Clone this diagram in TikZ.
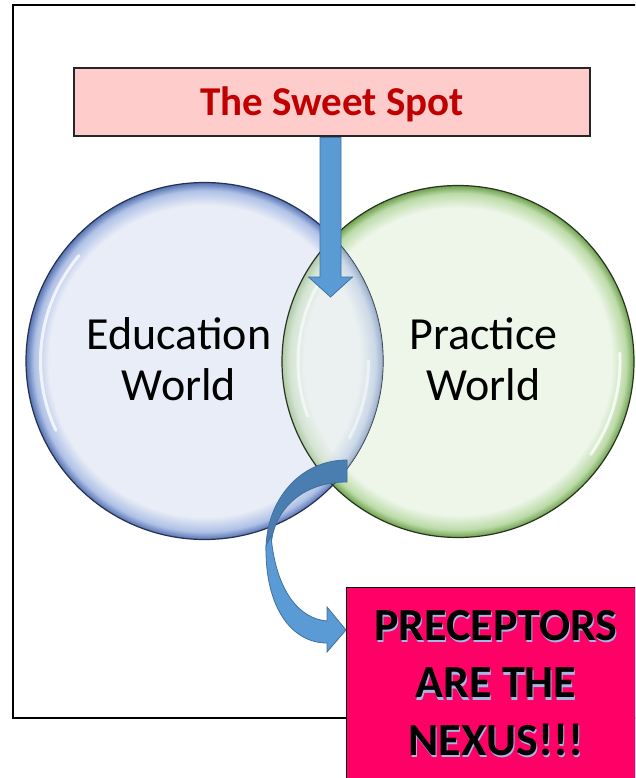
\documentclass[tikz,border=0pt]{standalone}
\usepackage{fontspec}
\setmainfont{Carlito}
\usetikzlibrary{calc}
\definecolor{sweetfill}{HTML}{FFCCCC}
\definecolor{sweettext}{HTML}{C00000}
\definecolor{arrowblue}{HTML}{5B9BD5}
\definecolor{arrowdark}{HTML}{41719C}
\definecolor{arrowback}{HTML}{4A7EB1}
\definecolor{blueinner}{HTML}{E9EDF7}
\definecolor{bluemid}{HTML}{AFC1E6}
\definecolor{bluerim}{HTML}{5672B2}
\definecolor{blueline}{HTML}{26324F}
\definecolor{greeninner}{HTML}{EEF6EA}
\definecolor{greenmid}{HTML}{BCDBA8}
\definecolor{greenrim}{HTML}{6E9F4F}
\definecolor{greenline}{HTML}{26351B}
\definecolor{nexusfill}{HTML}{FF0066}
\definecolor{glowcol}{HTML}{A3B7E4}
\newcommand\glowline[1]{\leavevmode\rlap{\kern1pt\raisebox{-2.5pt}{\textcolor{glowcol}{#1}}}#1}
\pgfdeclareradialshading{blueglass}{\pgfpoint{0bp}{0bp}}{color(0bp)=(blueinner); color(21.8bp)=(blueinner); color(23.9bp)=(bluemid); color(25bp)=(bluerim); color(50bp)=(bluerim)}
\pgfdeclareradialshading{greenglass}{\pgfpoint{0bp}{0bp}}{color(0bp)=(greeninner); color(21.8bp)=(greeninner); color(23.9bp)=(greenmid); color(25bp)=(greenrim); color(50bp)=(greenrim)}
\tikzset{
  worldcircle/.style={circle, inner sep=0pt, line width=1.2pt},
  sweetbox/.style={rectangle, draw=black!85, line width=1.4pt, fill=sweetfill,
    minimum width=516pt, minimum height=68pt, inner sep=0pt, text=sweettext,
    font=\fontsize{41}{49}\selectfont\bfseries, text height=26.4pt, text depth=0pt},
  worldlabel/.style={align=center, font=\fontsize{46}{51}\selectfont, inner sep=0pt, anchor=base},
  nexusbox/.style={rectangle, draw=black, line width=1.4pt, fill=nexusfill,
    minimum width=300pt, minimum height=240pt, inner sep=0pt},
  nexustext/.style={align=center, font=\fontsize{46}{57.5}\selectfont\bfseries, inner sep=0pt, anchor=base},
  blockarrow/.style={fill=arrowblue, draw=arrowdark, line width=0.8pt, line join=miter},
  glint/.style={white, line width=3pt, line cap=round}
}
\begin{document}
\begin{tikzpicture}[x=1pt,y=-1pt]
\useasboundingbox (0,0) rectangle (635,778);
\clip (0,0) rectangle (635,778);
\fill[white] (0,0) rectangle (635,778);
% outer frame
\draw[line width=1.6pt] (13,5) rectangle (680,718);
% circles
\node[worldcircle, minimum size=352pt, draw=greenline, shade, shading=greenglass] (prac) at (458,361.5) {};
\node[worldcircle, minimum size=357pt, draw=blueline, shade, shading=blueglass] (edu) at (204.5,361) {};
\begin{scope}
  \clip (edu.center) circle (178.5pt);
  \shade[shading=greenglass, fill opacity=0.45] (prac.center) circle (176pt);
  \draw[greenline, line width=1.2pt] (prac.center) circle (176pt);
\end{scope}
% glints
\draw[glint, opacity=0.75] ($(edu.center)+(140:164pt)$) arc (140:205:164pt);
\draw[glint, opacity=0.5] ($(edu.center)+(-28:164pt)$) arc (-28:0:164pt);
\draw[glint, opacity=0.6] ($(prac.center)+(150:160pt)$) arc (150:200:160pt);
\draw[glint, opacity=0.75] ($(prac.center)+(-35:162pt)$) arc (-35:3:162pt);
% labels (base anchor = baseline of the last line)
\node[worldlabel] (edulabel) at (179,400) {Education\\World};
\node[worldlabel] (praclabel) at (483.5,400) {Practice\\World};
% sweet spot box
\node[sweetbox] (sweet) at (332,102) {The Sweet Spot};
% down block arrow
\coordinate (dtop) at ($(sweet.south)+(-1.5,0)$);
\coordinate (dtip) at (330.5,297);
\path[blockarrow] ($(dtop)+(-10.5,0.8)$) -- ($(dtop)+(10.5,0.8)$) -- ($(dtip)+(10.5,-20)$)
  -- ($(dtip)+(22,-20)$) -- (dtip) -- ($(dtip)+(-22,-20)$) -- ($(dtip)+(-10.5,-20)$) -- cycle;
% nexus box
\node[nexusbox, anchor=north west] (nexus) at (346,586.5) {};
% curved arrow
\coordinate (ctail) at (347,460);
\coordinate (ctip) at ($(nexus.north west)+(0,43.5)$);
\path[fill=arrowback, draw=arrowdark, line width=0.8pt]
  (ctail) .. controls (300,460) and (266,500) .. (266,550)
  -- (271,548) .. controls (272,512) and (300,482) .. (347,482) -- cycle;
\path[blockarrow]
  (266,546) .. controls (265,608) and (292,643) .. (327,643)
  -- (327,652) -- (ctip) -- (327,607) -- (327,621)
  .. controls (300,619) and (276,592) .. (271,536) -- cycle;
% nexus text
\node[nexustext] (nexuslabel) at (496,755) {\glowline{PRECEPTORS}\\\glowline{ARE THE}\\\glowline{NEXUS!!!}};
\end{tikzpicture}
\end{document}
